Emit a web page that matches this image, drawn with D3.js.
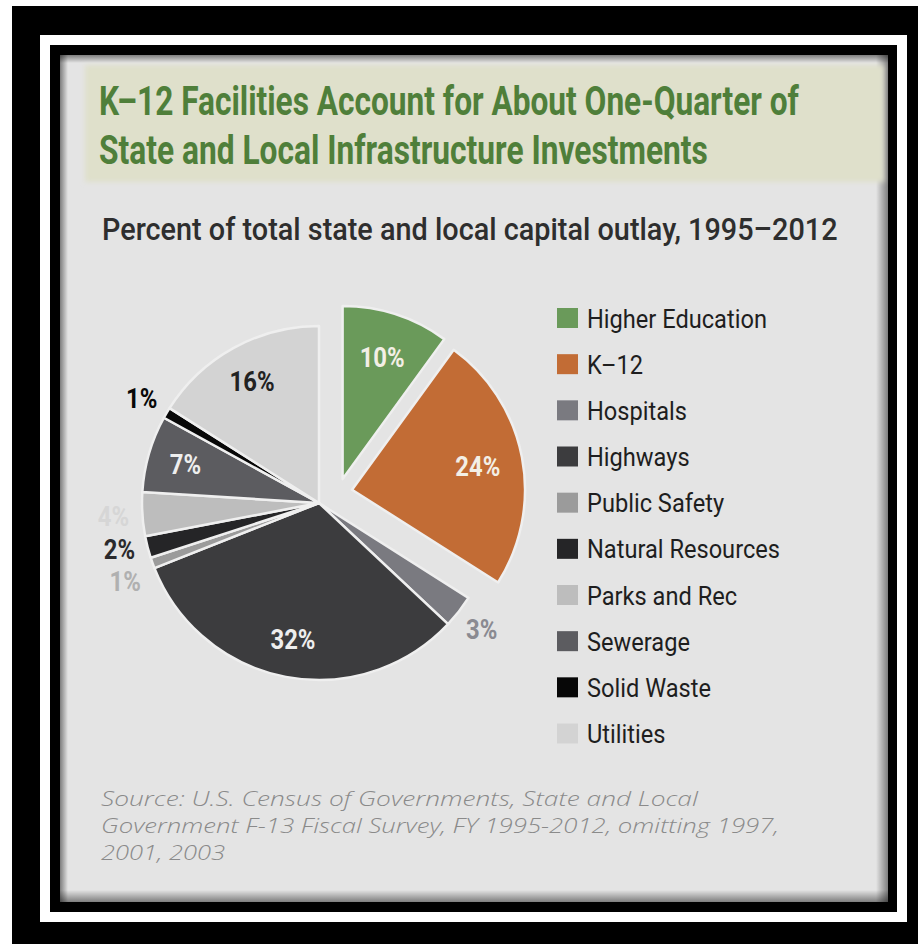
<!DOCTYPE html>
<html><head><meta charset="utf-8">
<script src="https://cdn.jsdelivr.net/npm/d3@7"></script>
<style>body{margin:0;background:#fff}svg{display:block}</style>
</head><body><svg id="c" width="918" height="944"></svg>
<script>
// ---------- data ----------
const categories = ["Higher Education","K-12","Hospitals","Highways","Public Safety","Natural Resources","Parks and Rec","Sewerage","Solid Waste","Utilities"];
const legendLabels = ["Higher Education","K–12","Hospitals","Highways","Public Safety","Natural Resources","Parks and Rec","Sewerage","Solid Waste","Utilities"];
const values = [10,24,3,32,1,2,4,7,1,16];
const explodedCats = ["Higher Education","K-12"];
const sliceColors = ["#6a9a5a","#c26c35","#7a7a80","#3c3c3e","#9b9b9b","#252527","#bdbdbd","#5c5c60","#070707","#d3d3d3"];
const titleLines = ["K–12 Facilities Account for About One-Quarter of","State and Local Infrastructure Investments"];
const subtitle = "Percent of total state and local capital outlay, 1995–2012";
const sourceLines = ["Source: U.S. Census of Governments, State and Local","Government F-13 Fiscal Survey, FY 1995-2012, omitting 1997,","2001, 2003"];

// ---------- setup ----------
const svg = d3.select("#c");
const defs = svg.append("defs");
// place a text at (x,y) and squeeze horizontally by factor k (via transform so boxes stay true)
function place(el, x, y, k){ d3.select(el).attr("x",0).attr("y",0).attr("transform",`translate(${x},${y}) scale(${k},1)`); }
function natW(el){ return el.getComputedTextLength(); }

// frame
svg.append("rect").attr("x",12).attr("y",6).attr("width",906).attr("height",938).attr("fill","#000");
svg.append("rect").attr("x",40).attr("y",35).attr("width",867).attr("height",887).attr("fill","#fff");
svg.append("rect").attr("x",50).attr("y",45).attr("width",847).attr("height",867).attr("fill","#000");
svg.append("rect").attr("x",60).attr("y",55).attr("width",828).attr("height",847).attr("fill","#e4e4e4");

// inner shadows
const sh = [
  {id:"shT",x1:0,y1:0,x2:0,y2:1,x:60,y:55,w:828,h:8},
  {id:"shL",x1:0,y1:0,x2:1,y2:0,x:60,y:55,w:8,h:847},
  {id:"shR",x1:1,y1:0,x2:0,y2:0,x:876,y:55,w:12,h:847},
  {id:"shB",x1:0,y1:1,x2:0,y2:0,x:60,y:890,w:828,h:12}
];
sh.forEach(s=>{
  const g = defs.append("linearGradient").attr("id",s.id).attr("x1",s.x1).attr("y1",s.y1).attr("x2",s.x2).attr("y2",s.y2);
  g.append("stop").attr("offset",0).attr("stop-color","#000").attr("stop-opacity",0.45);
  g.append("stop").attr("offset",1).attr("stop-color","#000").attr("stop-opacity",0);
  svg.append("rect").attr("x",s.x).attr("y",s.y).attr("width",s.w).attr("height",s.h).attr("fill",`url(#${s.id})`);
});

// title band
defs.append("filter").attr("id","soft").append("feGaussianBlur").attr("stdDeviation",2.5);
svg.append("rect").attr("x",85).attr("y",65).attr("width",799).attr("height",117).attr("fill","#dfe0cb").attr("filter","url(#soft)");

// title
const tw = [700, 609];
svg.selectAll("text.title").data(titleLines).join("text").attr("class","title")
  .attr("font-family","Roboto, 'DejaVu Sans', sans-serif").attr("font-weight",700).attr("font-size",41)
  .attr("fill","#4f7f3a").text(d=>d)
  .each(function(d,i){ place(this, 99, 115+i*49, tw[i]/natW(this)); });

// subtitle
svg.append("text")
  .attr("font-family","Roboto, sans-serif").attr("font-weight",500).attr("font-size",31)
  .attr("fill","#2e2e2e").text(subtitle)
  .each(function(){ place(this, 102, 240, 736/natW(this)); });

// ---------- pie ----------
const cx=319, cy=503, R=177, Rex=173;
const color = d3.scaleOrdinal(categories, sliceColors);
const data = categories.map((c,i)=>({cat:c, value:values[i]}));
const arcs = d3.pie().sort(null).value(d=>d.value)(data);
const ex = arcs.filter(a=>explodedCats.includes(a.data.cat));
const gMid = (d3.min(ex,a=>a.startAngle)+d3.max(ex,a=>a.endAngle))/2;
function isEx(a){ return explodedCats.includes(a.data.cat); }
function offset(a){
  if(!isEx(a)) return [0,0];
  const m=(a.startAngle+a.endAngle)/2;
  return [22*Math.sin(gMid)+14*Math.sin(m), -22*Math.cos(gMid)-14*Math.cos(m)];
}
const pieG = svg.append("g").attr("transform",`translate(${cx},${cy})`);
pieG.selectAll("path").data(arcs).join("path")
  .attr("transform",a=>{const o=offset(a); return `translate(${o[0]},${o[1]})`;})
  .attr("d",a=>d3.arc().innerRadius(0).outerRadius(isEx(a)?Rex:R)(a))
  .attr("fill",a=>color(a.data.cat))
  .attr("stroke","#efefef").attr("stroke-width",2.5).attr("stroke-linejoin","round");

// label positions (outside labels for small slices, with simple collision spreading)
const labPos = arcs.map(a=>{
  const m=(a.startAngle+a.endAngle)/2, o=offset(a);
  const outside = a.data.value<=4;
  const r = outside ? 206 : (isEx(a)?128:139);
  return {a, outside, x:o[0]+r*Math.sin(m), y:o[1]-r*Math.cos(m)};
});
{
  const minGap = 32;
  const left = labPos.filter(p=>p.outside && p.x<0).sort((p,q)=>p.y-q.y);
  for(let i=1;i<left.length;i++){
    const gap = left[i].y-left[i-1].y;
    if(gap<minGap){ const need=minGap-gap; left[i-1].y -= need/3; left[i].y += need*2/3; }
  }
}
const labFont = {family:"Roboto, sans-serif", weight:700, size:27};
let kLab;
{
  const probe = pieG.append("text").attr("font-family",labFont.family).attr("font-weight",labFont.weight).attr("font-size",labFont.size).text("32%");
  kLab = 45/natW(probe.node()); probe.remove();
}
pieG.selectAll("text.lab").data(labPos).join("text").attr("class","lab")
  .attr("text-anchor","middle").attr("dy","0.36em")
  .attr("font-family",labFont.family).attr("font-weight",labFont.weight).attr("font-size",labFont.size)
  .text(p=>p.a.data.value+"%")
  .each(function(p){
    const col = color(p.a.data.cat);
    let fill;
    if(p.outside) fill = d3.color(col).brighter(0.35).formatHex();
    else fill = d3.hsl(col).l>0.6 ? "#222" : (isEx(p.a)?"#f3efe6":"#eeeeee");
    d3.select(this).attr("fill",fill);
    place(this, p.x, p.y, kLab);
  });

// ---------- legend ----------
const ly = d3.scalePoint(categories,[318,733.5]);
const leg = svg.append("g");
leg.selectAll("rect").data(categories).join("rect")
  .attr("x",557).attr("y",c=>ly(c)-10).attr("width",21).attr("height",20).attr("fill",c=>color(c));
const legT = leg.selectAll("text").data(categories).join("text")
  .attr("font-family","Roboto, sans-serif").attr("font-weight",400).attr("font-size",26)
  .attr("fill","#1e1e1e").text((c,i)=>legendLabels[i]);
{
  const kLeg = 180/natW(legT.node());
  legT.each(function(c){ place(this, 587, ly(c)+9.5, kLeg); });
}

// ---------- source ----------
const sw = [597, 678, 124];
svg.selectAll("text.src").data(sourceLines).join("text").attr("class","src")
  .attr("font-family","'Open Sans', sans-serif").attr("font-style","italic").attr("font-weight",300).attr("font-size",21)
  .attr("fill","#8a8a8a").text(d=>d)
  .each(function(d,i){ place(this, 101, 806+i*27, sw[i]/natW(this)); });
</script></body></html>
